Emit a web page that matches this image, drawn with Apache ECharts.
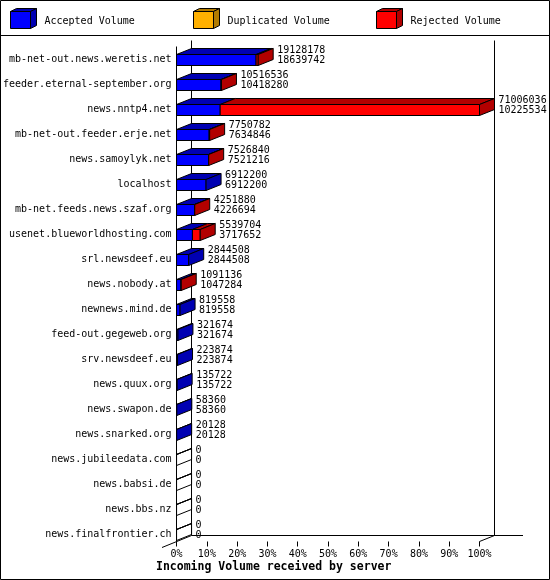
<!DOCTYPE html>
<html>
<head>
<meta charset="utf-8">
<title>Incoming Volume received by server</title>
<script src="https://cdn.jsdelivr.net/npm/echarts@6/dist/echarts.min.js"></script>
<style>
  html, body { margin: 0; padding: 0; background: #fff; }
  #chart { width: 550px; height: 580px; }
</style>
</head>
<body>
<div id="chart"></div>
<script>
// servers, top to bottom
var hosts = [
    'mb-net-out.news.weretis.net', 'feeder.eternal-september.org', 'news.nntp4.net',
    'mb-net-out.feeder.erje.net', 'news.samoylyk.net', 'localhost',
    'mb-net.feeds.news.szaf.org', 'usenet.blueworldhosting.com', 'srl.newsdeef.eu',
    'news.nobody.at', 'newnews.mind.de', 'feed-out.gegeweb.org', 'srv.newsdeef.eu',
    'news.quux.org', 'news.swapon.de', 'news.snarked.org', 'news.jubileedata.com',
    'news.babsi.de', 'news.bbs.nz', 'news.finalfrontier.ch'
];
// offered (total) volume and accepted volume, bytes
var offered = [19128178, 10516536, 71006036, 7750782, 7526840, 6912200, 4251880, 5539704,
    2844508, 1091136, 819558, 321674, 223874, 135722, 58360, 20128, 0, 0, 0, 0];
var accepted = [18639742, 10418280, 10225534, 7634846, 7521216, 6912200, 4226694, 3717652,
    2844508, 1047284, 819558, 321674, 223874, 135722, 58360, 20128, 0, 0, 0, 0];
var legendNames = ['Accepted Volume', 'Duplicated Volume', 'Rejected Volume'];
var axisTitle = 'Incoming Volume received by server';

var COLORS = {
    blue: '#0000ff', blueDark: '#0000b2',
    orange: '#ffb000', orangeDark: '#b27b00',
    red: '#ff0000', redDark: '#b20000'
};
var FONT = '10px "DejaVu Sans Mono", monospace';
var DX = 15, DY = 6;          // 3d depth offset
var GRID = { left: 176.5, right: 70.5, top: 47, bottom: 33 };
var W = 550, H = 580;

var maxVol = Math.max.apply(null, offered);
var seriesData = hosts.map(function (h, i) { return [i, offered[i], accepted[i]]; });

function poly(points, fill) {
    return {
        type: 'polygon',
        shape: { points: points },
        style: { fill: fill, stroke: '#000', lineWidth: 1 }
    };
}

function renderBar(params, api) {
    var cat = api.value(0), total = api.value(1), acc = api.value(2);
    var p0 = api.coord([0, cat]);
    var x0 = p0[0], cy = p0[1];
    var xa = api.coord([acc, cat])[0];
    var xt = api.coord([total, cat])[0];
    var top = cy - 5, bot = cy + 6;
    var children = [];
    // front faces
    if (acc > 0) children.push(poly([[x0, top], [xa, top], [xa, bot], [x0, bot]], COLORS.blue));
    if (total > acc) children.push(poly([[xa, top], [xt, top], [xt, bot], [xa, bot]], COLORS.red));
    // top faces
    children.push(poly([[x0, top], [xa, top], [xa + DX, top - DY], [x0 + DX, top - DY]], COLORS.blueDark));
    if (total > acc) children.push(poly([[xa, top], [xt, top], [xt + DX, top - DY], [xa + DX, top - DY]], COLORS.redDark));
    // side face
    var side = total === 0 ? 'none' : (total > acc ? COLORS.redDark : COLORS.blueDark);
    children.push(poly([[xt, top], [xt + DX, top - DY], [xt + DX, bot - DY], [xt, bot]], side));
    // value labels
    children.push({
        type: 'text',
        style: { text: String(total), x: xt + DX + 4, y: cy - 9, verticalAlign: 'middle', font: FONT, fill: '#000' }
    });
    children.push({
        type: 'text',
        style: { text: String(acc), x: xt + DX + 4, y: cy + 1, verticalAlign: 'middle', font: FONT, fill: '#000' }
    });
    return { type: 'group', children: children };
}

// frame and legend
var gl = GRID.left, gr = W - GRID.right, frontTop = GRID.top - 0.5, frontBot = H - GRID.bottom - 5.5;
var backTop = frontTop - DY, backBot = frontBot - DY;
function line(x1, y1, x2, y2) {
    return { type: 'line', shape: { x1: x1, y1: y1, x2: x2, y2: y2 }, style: { stroke: '#000', lineWidth: 1 } };
}
var graphics = [
    { type: 'rect', shape: { x: 0.5, y: 0.5, width: W - 1, height: H - 1 }, style: { fill: 'none', stroke: '#000', lineWidth: 1 } },
    line(0, 35.5, W, 35.5),
    line(gl, frontTop, gl, frontBot),
    line(gl + DX, backTop, gl + DX, backBot),
    line(gr + DX, backTop, gr + DX, backBot),
    line(gl + DX, backBot, 523, backBot),
    line(162, backBot + 30 * DY / DX, gl + DX, backBot),
    line(gr, frontBot, gr + DX, backBot),
    {
        type: 'text', left: 156, top: 561,
        style: { text: axisTitle, font: 'bold 11.5px "DejaVu Sans Mono", monospace', fill: '#000' }
    }
];
var legendColors = [[COLORS.blue, COLORS.blueDark], [COLORS.orange, COLORS.orangeDark], [COLORS.red, COLORS.redDark]];
legendNames.forEach(function (name, i) {
    var x = 10.5 + i * 183, y = 11.5, w = 20, h = 17, dx = 6, dy = 3;
    var c = legendColors[i];
    graphics.push(poly([[x, y], [x + w, y], [x + w, y + h], [x, y + h]], c[0]));
    graphics.push(poly([[x, y], [x + w, y], [x + w + dx, y - dy], [x + dx, y - dy]], c[1]));
    graphics.push(poly([[x + w, y], [x + w + dx, y - dy], [x + w + dx, y + h - dy], [x + w, y + h]], c[1]));
    graphics.push({
        type: 'text', style: { text: name, x: x + 34, y: 21, verticalAlign: 'middle', font: FONT, fill: '#000' }
    });
});

var chart = echarts.init(document.getElementById('chart'));
var option = {
    backgroundColor: '#fff',
    animation: false,
    grid: GRID,
    xAxis: {
        type: 'value',
        min: 0,
        max: maxVol,
        interval: maxVol / 10,
        offset: -5.5,
        axisLine: { show: false },
        axisTick: { show: true, length: 5, lineStyle: { color: '#000' } },
        splitLine: { show: false },
        axisLabel: {
            margin: 8,
            color: '#000',
            fontFamily: 'DejaVu Sans Mono',
            fontSize: 10,
            formatter: function (v) { return Math.round(v / maxVol * 100) + '%'; }
        }
    },
    yAxis: {
        type: 'category',
        inverse: true,
        data: hosts,
        axisLine: { show: false },
        axisTick: { show: false },
        axisLabel: { margin: 5, color: '#000', fontFamily: 'DejaVu Sans Mono', fontSize: 10 }
    },
    graphic: graphics,
    series: [{
        type: 'custom',
        name: 'Volume',
        renderItem: renderBar,
        encode: { x: [1, 2], y: 0 },
        clip: false,
        data: seriesData
    }]
};
chart.setOption(option);
window.addEventListener('resize', function () {
    chart.resize();
});
</script>
</body>
</html>
